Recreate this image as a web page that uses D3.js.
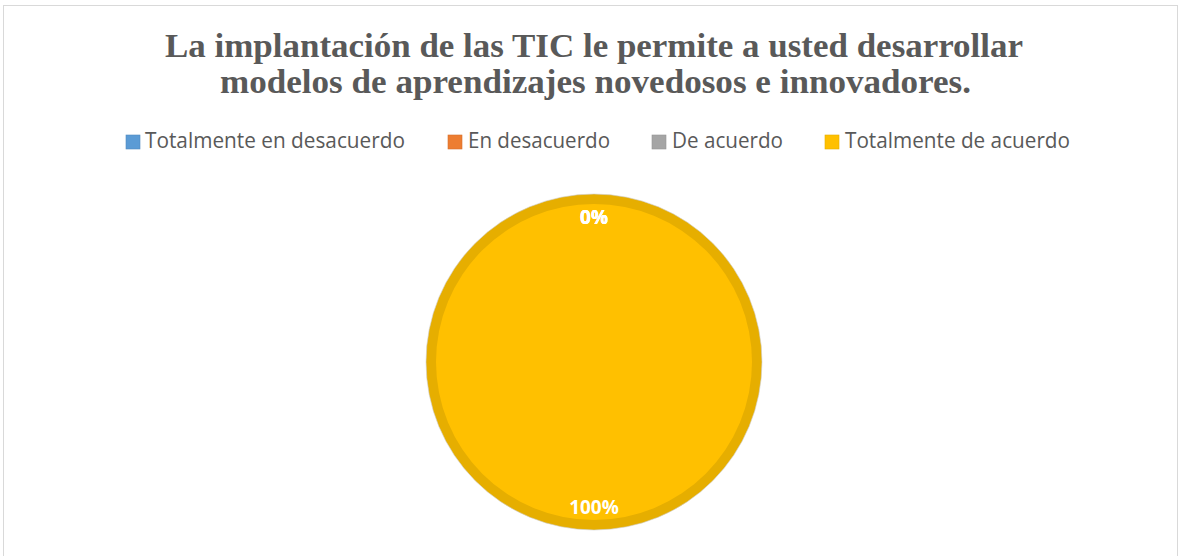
<!DOCTYPE html>
<html><head><meta charset="utf-8">
<script src="https://cdn.jsdelivr.net/npm/d3@7"></script>
<style>body{margin:0;background:#fff;}svg{display:block;}</style>
</head><body>
<svg id="c" width="1181" height="556"></svg>
<script>
const categories = ["Totalmente en desacuerdo","En desacuerdo","De acuerdo","Totalmente de acuerdo"];
const values = [0, 0, 0, 100];
const colors = ["#5B9BD5","#ED7D31","#A5A5A5","#FFC000"];
const borderColors = ["#5B9BD5","#ED7D31","#A5A5A5","#E6AE00"];
const titleLines = ["La implantación de las TIC le permite a usted desarrollar","modelos de aprendizajes novedosos e innovadores."];

const svg = d3.select("#c");
svg.append("rect").attr("x",3.5).attr("y",5.5).attr("width",1174).attr("height",560)
  .attr("fill","#fff").attr("stroke","#d9d9d9").attr("stroke-width",1);

// title
const tl = [{y:57,x1:165,x2:1023},{y:93,x1:220,x2:971}];
titleLines.forEach((t,i)=>{
  svg.append("text").attr("x",(tl[i].x1+tl[i].x2)/2).attr("y",tl[i].y)
    .attr("text-anchor","middle").attr("font-family","Liberation Serif, serif")
    .attr("font-weight","bold").attr("font-size",33).attr("fill","#595959")
    .attr("textLength",tl[i].x2-tl[i].x1).attr("lengthAdjust","spacingAndGlyphs").text(t);
});

// legend
const leg = [{sx:126,tx:145,te:405},{sx:448,tx:468,te:610},{sx:652,tx:672,te:783},{sx:825,tx:845,te:1070}];
categories.forEach((c,i)=>{
  svg.append("rect").attr("x",leg[i].sx).attr("y",135).attr("width",14).attr("height",14).attr("fill",colors[i])
    .attr("stroke", d3.color(colors[i]).darker(0.3)).attr("stroke-width",0.6);
  svg.append("text").attr("x",leg[i].tx).attr("y",148).attr("font-family","Open Sans, sans-serif")
    .attr("font-size",21).attr("fill","#595959")
    .attr("textLength",leg[i].te-leg[i].tx).attr("lengthAdjust","spacingAndGlyphs").text(c);
});

// pie
const cx=594, cy=362, R=168, band=10;
const pie = d3.pie().sort(null).value(d=>d)(values);
const g = svg.append("g").attr("transform",`translate(${cx},${cy})`);
const arcOuter = d3.arc().innerRadius(0).outerRadius(R);
const arcInner = d3.arc().innerRadius(0).outerRadius(R-band);
g.selectAll("path.o").data(pie).join("path").attr("class","o").attr("d",arcOuter)
  .attr("fill",(d,i)=>borderColors[i]).attr("stroke","#cfcfcf").attr("stroke-width",0.6);
g.selectAll("path.i").data(pie).join("path").attr("class","i").attr("d",arcInner)
  .attr("fill",(d,i)=>colors[i]);
g.selectAll("text.l").data(pie).join("text").attr("class","l")
  .attr("transform",d=>{
    const a=(d.startAngle+d.endAngle)/2;
    return `translate(${145*Math.sin(a)},${-145*Math.cos(a)})`;})
  .attr("text-anchor","middle").attr("dy","0.35em")
  .attr("font-family","Open Sans, sans-serif").attr("font-weight","bold").attr("font-size",19)
  .attr("fill","#fff").text(d=>d.data+"%");
</script>
</body></html>
